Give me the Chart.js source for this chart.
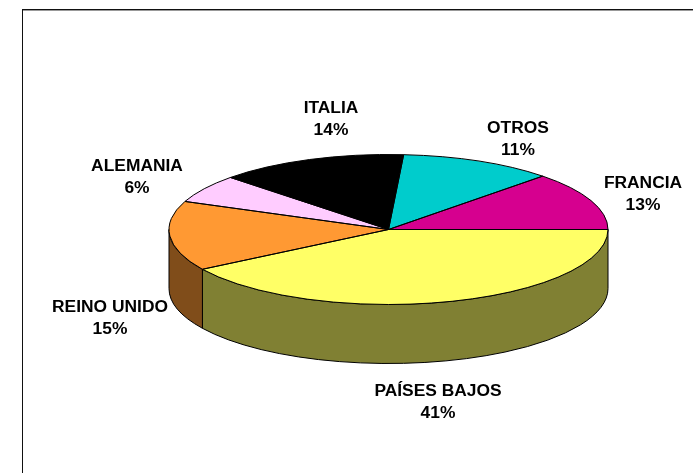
<!DOCTYPE html>
<html>
<head>
  <meta charset="utf-8">
  <title>Pie 3D</title>
  <style>
    body { margin: 0; background: #fff; }
    canvas { display: block; }
  </style>
  <script src="https://cdn.jsdelivr.net/npm/chart.js"></script>
</head>
<body>
  <canvas id="pie" width="693" height="473"></canvas>
  <script>
    // Values, clockwise from 3 o'clock
    const categories = ['PAÍSES BAJOS', 'REINO UNIDO', 'ALEMANIA', 'ITALIA', 'OTROS', 'FRANCIA'];
    const shares = [41.1, 15, 6.1, 13.9, 11.3, 12.6];
    const topColors = ['#FFFF66', '#FF9933', '#FFCCFF', '#000000', '#00CCCC', '#D6008F'];
    const sideColors = ['#808033', '#804D1A', '#806680', '#000000', '#006666', '#800055'];

    // Label anchors (centre x, y of the first text line)
    const labelX = [438, 110, 137, 331, 518, 643];
    const labelY = [391, 307, 166, 108, 128, 183];

    // Tilt of the disc: the height of the ellipse and of the rim, in pixels
    const ELLIPSE_H = 75;
    const RIM = 59;

    function arcPaths(chart) {
      return chart.getDatasetMeta(0).data.map(a => a.getProps(['x', 'y', 'startAngle', 'endAngle', 'outerRadius']));
    }

    const tiltedPie = {
      id: 'tiltedPie',
      beforeDraw(chart) {
        // chart frame, runs off the right and bottom of the picture
        const ctx = chart.ctx;
        ctx.save();
        ctx.fillStyle = '#999';
        ctx.fillRect(22, 10, 671, 1);
        ctx.fillStyle = '#111';
        ctx.fillRect(22, 9, 671, 1);
        ctx.fillRect(22, 9, 1, 464);
        ctx.restore();
      },
      beforeDatasetsDraw(chart) {
        const ctx = chart.ctx;
        // rim first, only the front half of the disc shows
        arcPaths(chart).forEach((a, i) => {
          const from = a.startAngle;
          const to = Math.min(a.endAngle, Math.PI);
          if (from >= Math.PI) return;
          ctx.beginPath();
          ctx.ellipse(a.x, a.y, a.outerRadius, ELLIPSE_H, 0, from, to);
          ctx.ellipse(a.x, a.y + RIM, a.outerRadius, ELLIPSE_H, 0, to, from, true);
          ctx.closePath();
          ctx.fillStyle = sideColors[i];
          ctx.fill();
          ctx.strokeStyle = '#000';
          ctx.lineWidth = 1;
          ctx.stroke();
        });
        // squash the library's arcs into the ellipse
        const first = arcPaths(chart)[0];
        ctx.save();
        ctx.translate(first.x, first.y);
        ctx.scale(1, ELLIPSE_H / first.outerRadius);
        ctx.translate(-first.x, -first.y);
      },
      afterDatasetsDraw(chart) {
        const ctx = chart.ctx;
        ctx.restore();
        ctx.strokeStyle = '#000';
        ctx.lineWidth = 1;
        arcPaths(chart).forEach(a => {
          ctx.beginPath();
          ctx.moveTo(a.x, a.y);
          ctx.ellipse(a.x, a.y, a.outerRadius, ELLIPSE_H, 0, a.startAngle, a.endAngle);
          ctx.closePath();
          ctx.stroke();
        });
      },
      afterDraw(chart) {
        const ctx = chart.ctx;
        ctx.save();
        ctx.font = 'bold 17.4px "Liberation Sans", Arial, sans-serif';
        ctx.fillStyle = '#000';
        ctx.textAlign = 'center';
        ctx.textBaseline = 'middle';
        categories.forEach((name, i) => {
          ctx.fillText(name, labelX[i], labelY[i]);
          ctx.fillText(Math.round(shares[i]) + '%', labelX[i], labelY[i] + 22);
        });
        ctx.restore();
      }
    };

    new Chart(document.getElementById('pie').getContext('2d'), {
      type: 'pie',
      data: {
        labels: categories,
        datasets: [{
          data: shares,
          backgroundColor: topColors,
          borderWidth: 0
        }]
      },
      options: {
        responsive: false,
        animation: false,
        rotation: 90,
        layout: { padding: { left: 169, right: 85, top: 10, bottom: 24 } },
        plugins: {
          legend: { display: false },
          tooltip: { enabled: false }
        }
      },
      plugins: [tiltedPie]
    });
  </script>
</body>
</html>
